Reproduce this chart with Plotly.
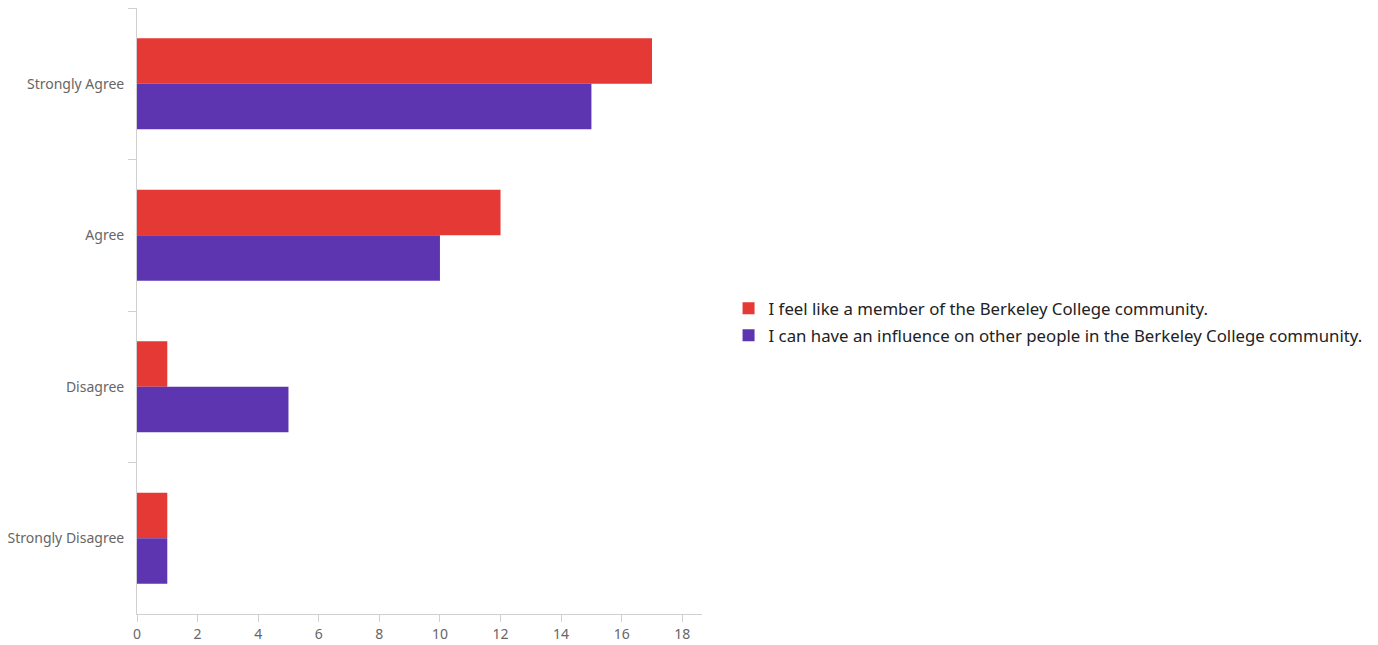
import plotly.graph_objects as go

categories = ["Strongly Agree", "Agree", "Disagree", "Strongly Disagree"]
series_names = [
    "I feel like a member of the Berkeley College community.",
    "I can have an influence on other people in the Berkeley College community.",
]
member_values = [17, 12, 1, 1]
influence_values = [15, 10, 5, 1]
colors = ["#E53935", "#5E35B1"]
x_ticks = [0, 2, 4, 6, 8, 10, 12, 14, 16, 18]

fig = go.Figure()
for i, (name, vals, col) in enumerate(zip(series_names, [member_values, influence_values], colors)):
    fig.add_trace(go.Bar(
        y=categories, x=vals, name=name, orientation="h",
        legendgroup=f"g{i}",
        marker=dict(color=col, line=dict(width=0)),
    ))

fig.update_layout(
    width=1370, height=637,
    paper_bgcolor="white", plot_bgcolor="white",
    margin=dict(l=129, r=676, t=0, b=31, autoexpand=False),
    barmode="group", bargap=0.4, bargroupgap=0,
    font=dict(family="Noto Sans, Open Sans, sans-serif", color="#666666"),
    showlegend=True,
    legend=dict(
        x=1.047, y=0.482, xanchor="left", yanchor="middle",
        traceorder="grouped", tracegroupgap=2,
        font=dict(size=16.8, color="#222222"),
        itemwidth=30,
    ),
    xaxis=dict(
        range=[0, 18.65], tickvals=x_ticks, showgrid=False, zeroline=False,
        showline=True, linecolor="#d0d0d0", linewidth=1,
        ticks="outside", ticklen=7, tickcolor="#d0d0d0",
        tickfont=dict(size=14, color="#666666"),
    ),
    yaxis=dict(
        categoryorder="array", categoryarray=categories, autorange="reversed",
        showgrid=False, zeroline=False,
        showline=True, linecolor="#d0d0d0", linewidth=1,
        ticks="outside", ticklen=8, tickcolor="#d0d0d0", tickson="boundaries",
        ticklabelstandoff=9,
        tickfont=dict(size=14, color="#666666"),
    ),
)

fig.write_html("out.html")
